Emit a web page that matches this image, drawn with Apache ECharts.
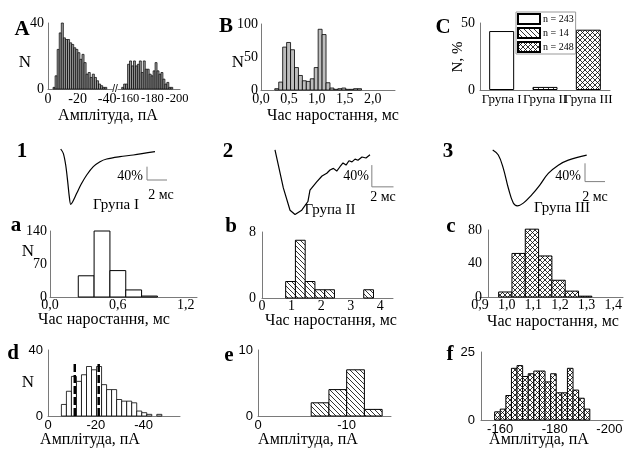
<!DOCTYPE html>
<html>
<head>
<meta charset="utf-8">
<script src="https://cdn.jsdelivr.net/npm/echarts@6/dist/echarts.min.js"></script>
<style>
  html, body { margin: 0; padding: 0; background: #fff; }
  #main { width: 630px; height: 452px; }
</style>
</head>
<body>
<div id="main"></div>
<script>
// ---- data ----
// A: amplitude histogram (broken axis), two groups of bins
const ampLeftStart = -3.4, ampLeftWidth = -1.4;
const ampLeftCounts = [1, 8, 24, 34, 40, 31, 30, 30, 28, 27, 25, 24, 22, 18, 21, 16, 9, 10, 7, 9, 7, 5, 3, 2, 1, 1];
const ampRightStart = -155, ampRightWidth = -1.6;
const ampRightCounts = [1, 3, 3, 15, 17, 14, 17, 14, 15, 17, 10, 17, 12, 12, 9, 8, 11, 16, 11, 9, 10, 6, 3, 4, 1, 1];

// B: rise time histogram, all events
const riseStart = 0.247, riseWidth = 0.0706;
const riseCounts = [2, 12, 65, 72, 61, 34, 22, 14, 13, 17, 34, 92, 84, 11, 3, 1, 2, 3, 1, 1, 2, 2];

// C: share of each group
const groupNames = ['Група I', 'Група II', 'Група III'];
const groupShare = [44, 2.3, 45];
const groupN = ['n = 243', 'n = 14', 'n = 248'];

// averaged traces (ms, % of peak scale)
const trace1 = [[0.57, 3], [0.83, -10], [1.07, -45], [1.27, -95], [1.43, -140], [1.57, -163], [1.77, -155],
  [2.17, -130], [2.67, -100], [3.17, -75], [3.83, -50], [4.5, -35], [5.17, -27], [6.5, -20], [7.83, -15], [10, -5]];
const trace2 = [[0.46, 1], [0.77, -27], [1.23, -69], [1.85, -110], [2.31, -118], [2.93, -110], [3.5, -94],
  [3.69, -73], [4.31, -58], [4.8, -47], [5.24, -42], [5.54, -36], [5.85, -33], [6.16, -38], [6.46, -30],
  [6.74, -23], [7.02, -27], [7.29, -19], [7.57, -21], [7.85, -16], [8.12, -18], [8.49, -12], [8.86, -14], [9.23, -8]];
const trace3 = [[0.47, -1], [1.03, -12], [1.53, -41], [2.03, -84], [2.53, -117], [2.93, -123], [3.53, -117],
  [4.37, -99], [5.2, -77], [6.03, -52], [7.03, -34], [8.03, -23], [9.87, -12]];
// scale bars: 40 % / 2 ms
const bar1 = [[9.2, -50], [9.2, -90], [11.2, -90]];
const bar2 = [[9.4, -27], [9.4, -67], [11.4, -67]];
const bar3 = [[9.7, -30], [9.7, -70], [11.7, -70]];

// a, b, c: rise time per group
const riseAStart = 0.25, riseAWidth = 0.14, riseACounts = [45, 140, 56, 15, 2];
const riseBStart = 0.8, riseBWidth = 0.33, riseBCounts = [2, 7, 2, 1, 1, 0, 0, 0, 1];
const riseCStart = 0.97, riseCWidth = 0.05, riseCCounts = [6, 52, 81, 49, 20, 7, 1];

// d, e, f: amplitude per group
const ampDStart = -5.6, ampDWidth = -2.1;
const ampDCounts = [7, 15, 24, 21, 25, 30, 28, 30, 19, 16, 16, 10, 9, 9, 8, 3, 2, 1, 0, 1];
const ampDMeans = [-11.2, -21.2];
const ampDMeanTop = 32;
const ampEStart = -6, ampEWidth = -2, ampECounts = [2, 4, 7, 1];
const ampFStart = -158, ampFWidth = -2.05;
const ampFCounts = [3, 4, 9, 19, 20, 16, 17, 18, 18, 14, 17, 10, 10, 19, 11, 8, 4];

// ---- helpers ----
const serif = '"Liberation Serif", "Times New Roman", serif';
const sans = '"Liberation Sans", Arial, sans-serif';

function makePattern(cross) {
  const s = 5, c = document.createElement('canvas');
  c.width = s; c.height = s;
  const g = c.getContext('2d');
  g.fillStyle = '#fff'; g.fillRect(0, 0, s, s);
  g.strokeStyle = '#000'; g.lineWidth = 0.8;
  g.beginPath();
  g.moveTo(-1, -1); g.lineTo(s + 1, s + 1);
  if (cross) { g.moveTo(-1, s + 1); g.lineTo(s + 1, -1); }
  g.stroke();
  return { image: c, repeat: 'repeat' };
}
const hatch = makePattern(false);
const crossHatch = makePattern(true);

function bins(start, width, counts) {
  return counts.map((c, i) => [start + i * width, start + (i + 1) * width, c]).filter(d => d[2] > 0);
}

function histSeries(idx, data, fill, lw) {
  return {
    type: 'custom', xAxisIndex: idx, yAxisIndex: idx, data,
    encode: { x: [0, 1], y: 2 },
    renderItem: (params, api) => {
      const p0 = api.coord([api.value(0), 0]);
      const p1 = api.coord([api.value(1), api.value(2)]);
      return {
        type: 'rect',
        shape: { x: Math.min(p0[0], p1[0]), y: p1[1], width: Math.abs(p1[0] - p0[0]), height: p0[1] - p1[1] },
        style: { fill, stroke: '#000', lineWidth: lw || 1 }
      };
    }
  };
}

const lineStyle = { color: '#7a7a7a', width: 1 };
const intFmt = v => String(v);
const decFmt = v => v.toFixed(1).replace('.', ',');

function xAx(idx, min, max, labels, opt) {
  opt = opt || {};
  return {
    type: 'value', gridIndex: idx, min, max, inverse: !!opt.inverse,
    axisLine: { show: true, onZero: false, lineStyle }, axisTick: { show: false }, splitLine: { show: false },
    axisLabel: {
      customValues: labels, formatter: opt.fmt || intFmt, color: '#000',
      hideOverlap: false, showMinLabel: true, showMaxLabel: true,
      fontFamily: opt.sans ? sans : serif, fontSize: opt.size || (opt.sans ? 13 : 14), margin: opt.margin || 3
    }
  };
}
function yAx(idx, max, labels, opt) {
  opt = opt || {};
  return {
    type: 'value', gridIndex: idx, min: 0, max, offset: opt.offset || 0, show: opt.show !== false,
    axisLine: { show: true, lineStyle }, axisTick: { show: false }, splitLine: { show: false },
    axisLabel: {
      customValues: labels, formatter: intFmt, color: '#000',
      hideOverlap: false, showMinLabel: true, showMaxLabel: true,
      fontFamily: opt.sans ? sans : serif, fontSize: opt.sans ? 13 : 14, margin: opt.margin || 4
    }
  };
}
function hiddenAx(idx, min, max) {
  return { type: 'value', gridIndex: idx, min, max, show: false };
}
function grid(left, top, width, height) {
  return { left, top, width, height, containLabel: false, outerBoundsMode: 'none' };
}
function txt(text, x, y, font, align, rot) {
  return {
    type: 'text', x, y, rotation: rot || 0,
    style: {
      text, font, fill: '#000',
      textAlign: align || 'center', align: align || 'center',
      textVerticalAlign: 'middle', verticalAlign: 'middle'
    }
  };
}
function traceSeries(idx, data, smooth) {
  return {
    type: 'line', xAxisIndex: idx, yAxisIndex: idx, data, smooth, showSymbol: false, symbol: 'none',
    lineStyle: { color: '#000', width: 1.2 }, silent: true
  };
}
function scaleSeries(idx, data) {
  return {
    type: 'line', xAxisIndex: idx, yAxisIndex: idx, data, symbol: 'none',
    lineStyle: { color: '#808080', width: 1 }, silent: true
  };
}

const letter = 'bold 21px ' + serif;
const title = '16px ' + serif;
const nFont = '17px ' + serif;
const small = '14px ' + serif;

// grid index: 0 A-left, 1 A-right, 2 B, 3 C, 4-6 traces, 7 a, 8 b, 9 c, 10 d, 11 e, 12 f
const grids = [
  grid(48, 23, 65, 66), grid(118, 23, 62, 66), grid(261, 24, 134, 66), grid(480, 23, 130, 67),
  grid(55, 145, 120, 65), grid(270, 145, 130, 75), grid(488, 145, 130, 70),
  grid(50, 231, 147, 66), grid(262, 232, 131, 66), grid(480, 230, 143, 67),
  grid(48, 350, 132, 66), grid(258, 350, 133, 66), grid(481, 352, 142, 68)
];

const xAxes = [
  xAx(0, -44, 0, [0, -20, -40], { inverse: true }),
  xAx(1, -202.5, -152, [-160, -180, -200], { inverse: true, size: 12.5 }),
  xAx(2, 0, 2.4, [0, 0.5, 1, 1.5, 2], { fmt: decFmt, margin: 2 }),
  {
    type: 'category', gridIndex: 3, data: groupNames,
    axisLine: { show: true, lineStyle }, axisTick: { show: false },
    axisLabel: { interval: 0, hideOverlap: false, color: '#000', fontFamily: serif, fontSize: 13, margin: 3 }
  },
  hiddenAx(4, 0, 12), hiddenAx(5, 0, 12), hiddenAx(6, 0, 13),
  xAx(7, 0, 1.3, [0, 0.6, 1.2], { fmt: decFmt, margin: 1 }),
  xAx(8, 0, 4.43, [0, 1, 2, 3, 4], { margin: 1 }),
  xAx(9, 0.9, 1.437, [0.9, 1.0, 1.1, 1.2, 1.3, 1.4], { fmt: decFmt, margin: 1 }),
  xAx(10, -55.2, 0, [0, -20, -40], { inverse: true, sans: true, margin: 3 }),
  xAx(11, -15, 0, [0, -10], { inverse: true, sans: true, margin: 3 }),
  xAx(12, -205, -153, [-160, -180, -200], { inverse: true, sans: true, margin: 3 })
];

const yAxes = [
  yAx(0, 40, [0, 40]),
  yAx(1, 40, [], { show: false }),
  yAx(2, 100, [0, 50, 100], { margin: 3 }),
  yAx(3, 50, [0, 50], { margin: 5 }),
  hiddenAx(4, -180, 15), hiddenAx(5, -128, 10), hiddenAx(6, -143, 10),
  yAx(7, 140, [0, 70, 140], { margin: 3 }),
  yAx(8, 8, [0, 8], { margin: 6 }),
  yAx(9, 80, [0, 40, 80], { offset: -8, margin: 6 }),
  yAx(10, 40, [0, 40], { sans: true, margin: 5 }),
  yAx(11, 10, [0, 10], { sans: true, margin: 5 }),
  yAx(12, 25, [0, 25], { sans: true, margin: 6 })
];

const groupFills = ['#fff', hatch, crossHatch];
const groupSeries = groupN.map((name, g) => ({
  name, type: 'bar', stack: 'share', xAxisIndex: 3, yAxisIndex: 3, barWidth: 25,
  data: groupShare.map((v, i) => (i === g ? v : '-')),
  itemStyle: { color: groupFills[g], borderColor: '#000', borderWidth: 1 },
  silent: true
}));

const meanSeries = ampDMeans.map(m => ({
  type: 'line', xAxisIndex: 10, yAxisIndex: 10, data: [[m, 0], [m, ampDMeanTop]], symbol: 'none',
  lineStyle: { color: '#000', width: 2.5, type: [8, 3] }, silent: true, z: 5
}));

const option = {
  backgroundColor: '#fff',
  animation: false,
  grid: grids,
  xAxis: xAxes,
  yAxis: yAxes,
  legend: {
    data: groupN, left: 516, top: 12, orient: 'vertical', icon: 'rect',
    itemWidth: 22, itemHeight: 10, itemGap: 2, padding: [1, 2, 1, 1],
    borderColor: '#999', borderWidth: 1,
    textStyle: { fontFamily: serif, fontSize: 10, color: '#000', padding: [0, 0, 0, -2] },
    selectedMode: false
  },
  series: [
    histSeries(0, bins(ampLeftStart, ampLeftWidth, ampLeftCounts), '#9a9a9a', 0.7),
    histSeries(1, bins(ampRightStart, ampRightWidth, ampRightCounts), '#9a9a9a', 0.7),
    histSeries(2, bins(riseStart, riseWidth, riseCounts), '#bdbdbd', 0.8),
    ...groupSeries,
    traceSeries(4, trace1, 0.3), scaleSeries(4, bar1),
    traceSeries(5, trace2, false), scaleSeries(5, bar2),
    traceSeries(6, trace3, 0.4), scaleSeries(6, bar3),
    histSeries(7, bins(riseAStart, riseAWidth, riseACounts), '#fff'),
    histSeries(8, bins(riseBStart, riseBWidth, riseBCounts), hatch),
    histSeries(9, bins(riseCStart, riseCWidth, riseCCounts), crossHatch),
    histSeries(10, bins(ampDStart, ampDWidth, ampDCounts), '#fff', 0.8),
    ...meanSeries,
    histSeries(11, bins(ampEStart, ampEWidth, ampECounts), hatch),
    histSeries(12, bins(ampFStart, ampFWidth, ampFCounts), crossHatch)
  ],
  graphic: [
    txt('A', 22, 30, letter), txt('B', 226, 27, letter), txt('C', 443, 28, letter),
    txt('1', 22, 152, letter), txt('2', 228, 152, letter), txt('3', 448, 152, letter),
    txt('a', 16, 226, letter), txt('b', 231, 227, letter), txt('c', 451, 227, letter),
    txt('d', 13, 354, letter), txt('e', 229, 356, letter), txt('f', 450, 355, letter),
    txt('N', 25, 63, nFont), txt('N', 238, 63, nFont), txt('N', 28, 252, nFont), txt('N', 28, 383, nFont),
    txt('N, %', 458, 57, '15px ' + serif, 'center', Math.PI / 2),
    txt('//', 115, 89, '10px ' + sans),
    txt('Амплітуда, пА', 108, 116, title), txt('Час наростання, мс', 333, 116, title),
    txt('Час наростання, мс', 104, 320, title), txt('Час наростання, мс', 331, 321, title),
    txt('Час наростання, мс', 553, 322, title),
    txt('Амплітуда, пА', 90, 440, title), txt('Амплітуда, пА', 308, 440, title), txt('Амплітуда, пА', 539, 440, title),
    txt('40%', 143, 176, small, 'right'), txt('2 мс', 161, 195, small), txt('Група I', 116, 205, '15px ' + serif),
    txt('40%', 369, 176, small, 'right'), txt('2 мс', 383, 197, small), txt('Група II', 330, 210, '15px ' + serif),
    txt('40%', 581, 176, small, 'right'), txt('2 мс', 595, 197, small), txt('Група III', 562, 208, '15px ' + serif)
  ]
};

const chart = echarts.init(document.getElementById('main'), null, { renderer: 'canvas' });
chart.setOption(option);
</script>
</body>
</html>
